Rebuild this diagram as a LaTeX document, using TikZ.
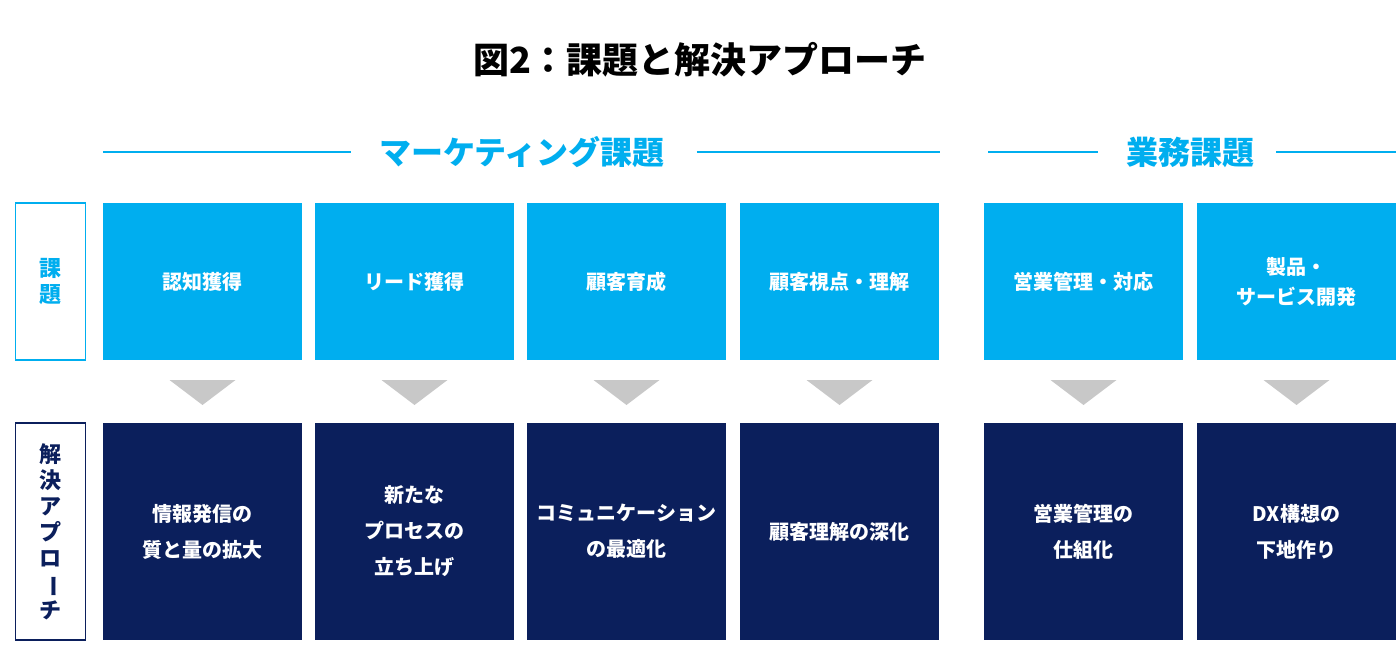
\documentclass[tikz,border=0pt]{standalone}
\usepackage{fontspec}
\newfontfamily\cjk{Noto Sans CJK JP}
\definecolor{skyblue}{HTML}{00AEEF}
\definecolor{navyblue}{HTML}{0B1F5C}
\definecolor{arrowgray}{HTML}{C8C8C8}
\tikzset{
  issue/.style={fill=skyblue, text=white, minimum width=199pt, minimum height=157pt,
    inner sep=0pt, align=center, font=\cjk\bfseries\fontsize{20}{30}\selectfont},
  approach/.style={fill=navyblue, text=white, minimum width=199pt, minimum height=217pt,
    inner sep=0pt, align=center, font=\cjk\bfseries\fontsize{20}{36}\selectfont},
  sidelabel/.style={draw=#1, line width=1.5pt, fill=white, text=#1, minimum width=70pt,
    inner sep=0pt, align=center, font=\cjk\bfseries\fontsize{22}{26}\selectfont},
  header/.style={text=skyblue, font=\cjk\bfseries\fontsize{32}{36}\selectfont, inner sep=0pt},
  headline/.style={draw=skyblue, line width=1.5pt}
}
\begin{document}
\begin{tikzpicture}[x=1pt,y=-1pt]
  \useasboundingbox[fill=white] (0,0) rectangle (1400,660);
  \node[font=\cjk\bfseries\fontsize{36}{40}\selectfont] (title) at (700,60) {図2：課題と解決アプローチ};
  % headers
  \node[header] (mkt) at (522,152) {マーケティング課題};
  \node[header] (biz) at (1190,152) {業務課題};
  \coordinate (m1) at (103,152); \coordinate (m2) at (940,152);
  \coordinate (b1) at (988,152); \coordinate (b2) at (1396,152);
  \draw[headline] (m1) -- ([xshift=-28pt]mkt.west);
  \draw[headline] ([xshift=32pt]mkt.east) -- (m2);
  \draw[headline] (b1) -- ([xshift=-28pt]biz.west);
  \draw[headline] ([xshift=22pt]biz.east) -- (b2);
  % side labels
  \node[sidelabel=skyblue, minimum height=157pt] (lissue) at (50.5,281.5) {課\\題};
  \node[sidelabel=navyblue, minimum height=217pt] (lapp) at (50.5,531.5)
    {解\\決\\ア\\プ\\ロ\\\rotatebox[origin=c]{-90}{ー}\\チ};
  % columns
  \foreach \x/\i/\a [count=\n] in {
      202.5/認知獲得/{情報発信の\\質と量の拡大},
      414.5/リード獲得/{新たな\\プロセスの\\立ち上げ},
      626.5/顧客育成/{コミュニケーション\\の最適化},
      839.5/顧客視点・理解/{顧客理解の深化},
      1083.5/営業管理・対応/{営業管理の\\仕組化},
      1296.5/{製品・\\サービス開発}/{DX構想の\\下地作り}} {
    \node[issue] (issue\n) at (\x,281.5) {\i};
    \node[approach] (app\n) at (\x,531.5) {\a};
    \fill[arrowgray] (\x-33,380) -- (\x+33,380) -- (\x,405) -- cycle;
  }
\end{tikzpicture}
\end{document}
